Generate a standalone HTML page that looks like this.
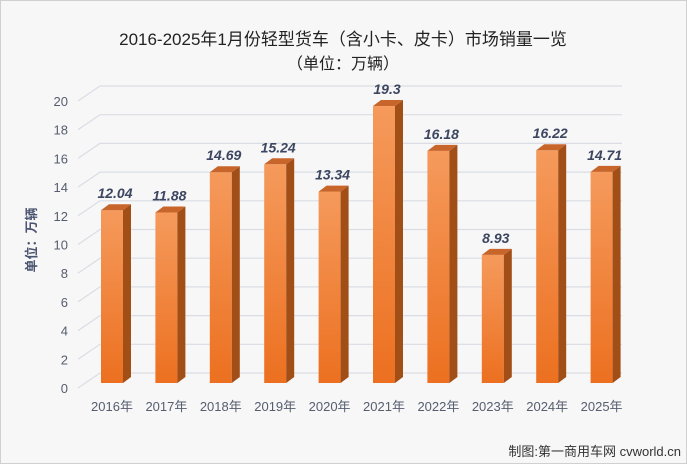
<!DOCTYPE html><html><head><meta charset="utf-8"><style>
body{margin:0;background:#fff}
svg{display:block;font-family:"Liberation Sans","Noto Sans CJK SC",sans-serif}
</style></head><body>
<svg id="c" width="687" height="464">
<defs>
<linearGradient id="g" x1="0" y1="0" x2="0" y2="1"><stop offset="0" stop-color="#f59a5c"/><stop offset="1" stop-color="#ec7020"/></linearGradient>
</defs>
<rect x="0.5" y="0.5" width="686" height="463" fill="#f7f7f8" stroke="#d0d0d0"/>
<text x="343" y="45" text-anchor="middle" font-size="17" fill="#222">2016-2025年1月份轻型货车（含小卡、皮卡）市场销量一览</text>
<text x="343" y="69" text-anchor="middle" font-size="16" fill="#222">（单位：万辆）</text>
<text transform="translate(36,240) rotate(-90)" text-anchor="middle" font-size="13" font-weight="bold" fill="#4a5470">单位：万辆</text>
<text x="681" y="456" text-anchor="end" font-size="13" fill="#333">制图:第一商用车网 cvworld.cn</text>
<g id="grid"></g><g id="bars"></g><g id="xl"></g>
</svg>
<script>
const categories=["2016年","2017年","2018年","2019年","2020年","2021年","2022年","2023年","2024年","2025年"];
const values=[12.04,11.88,14.69,15.24,13.34,19.3,16.18,8.93,16.22,14.71];
const ticks=[0,2,4,6,8,10,12,14,16,18,20];
const NS="http://www.w3.org/2000/svg";
function el(t,a,p){const e=document.createElementNS(NS,t);for(const k in a)e.setAttribute(k,a[k]);p.appendChild(e);return e;}
const k=14.35;
const yBack=v=>373-v*k, yBar=v=>383-v*k;
const xBar=i=>101+i*54.4;
const G=document.getElementById('grid'),B=document.getElementById('bars'),X=document.getElementById('xl');
ticks.forEach(t=>{
 const y=yBack(t);
 const l=el('polyline',{points:`78,${y+15} 100,${y} 622,${y}`,fill:'none',stroke:'#dadde3','stroke-width':1.2},G);
 
 
 const tx=el('text',{x:68,y:y+20,'text-anchor':'end','font-size':13,fill:'#555d6e'},G);
 tx.textContent=t;
 
 
});
values.forEach((v,i)=>{
 const x=xBar(i),w=22,y=yBar(v),b=yBar(0);
 const g=el('g',{},B);
 
 
 el('rect',{x:x,y:y,width:w,height:b-y,fill:'url(#g)'},g);
 el('polygon',{points:`${x+w},${y} ${x+w+8},${y-6} ${x+w+8},${b-6} ${x+w},${b}`,fill:'#a24e17'},g);
 el('polygon',{points:`${x},${y} ${x+8},${y-6} ${x+w+8},${y-6} ${x+w},${y}`,fill:'#c8652a'},g);
 const t=el('text',{x:x+w/2+3,y:y-12,'text-anchor':'middle','font-size':14,'font-weight':'bold','font-style':'italic',fill:'#3d4660'},B);
 t.textContent=v;
 
 
 const c=el('text',{x:x+w/2,y:411,'text-anchor':'middle','font-size':13,fill:'#555d6e'},X);
 c.textContent=categories[i];
 
 
});
</script>
</body></html>
